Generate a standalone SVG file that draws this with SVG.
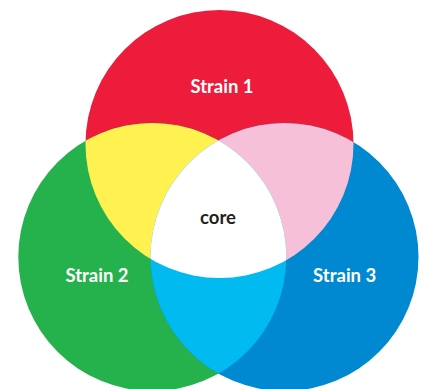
<svg xmlns="http://www.w3.org/2000/svg" width="424" height="389" viewBox="0 0 424 389">
  <style>
    .lbl { font-family: Lato, "Open Sans", "Liberation Sans", sans-serif; font-weight: 700; font-size: 18.5px; text-anchor: middle; fill: #ffffff; }
    .core { fill: #231f20; }
  </style>
  <defs>
    <clipPath id="cRed"><circle cx="219.5" cy="144" r="134"/></clipPath>
    <clipPath id="cGreen"><circle cx="152.3" cy="257" r="134"/></clipPath>
    <clipPath id="cBlue"><circle cx="284.5" cy="257" r="134"/></clipPath>
  </defs>
  <rect width="424" height="389" fill="#ffffff"/>
  <g id="strain1">
    <circle cx="219.5" cy="144" r="134" fill="#ED1C3B"/>
  </g>
  <g id="strain2">
    <circle cx="152.3" cy="257" r="134" fill="#25B24C"/>
  </g>
  <g id="strain3">
    <circle cx="284.5" cy="257" r="134" fill="#0089D0"/>
  </g>
  <g id="overlaps">
    <g clip-path="url(#cRed)"><circle cx="152.3" cy="257" r="134" fill="#FFF150"/></g>
    <g clip-path="url(#cRed)"><circle cx="284.5" cy="257" r="134" fill="#F6C1D8"/></g>
    <g clip-path="url(#cGreen)"><circle cx="284.5" cy="257" r="134" fill="#00BAF0"/></g>
  </g>
  <g id="core">
    <g clip-path="url(#cRed)"><g clip-path="url(#cGreen)"><circle cx="284.5" cy="257" r="134" fill="#ffffff"/></g></g>
  </g>
  <g id="labels">
    <text class="lbl" x="222" y="92.7">Strain 1</text>
    <text class="lbl" x="97" y="281.7">Strain 2</text>
    <text class="lbl" x="344.7" y="281.7">Strain 3</text>
    <text class="lbl core" x="218" y="224">core</text>
  </g>
</svg>
